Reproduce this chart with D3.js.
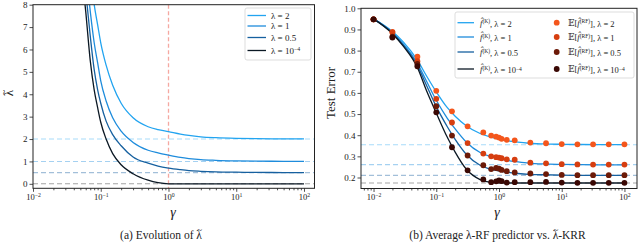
<!DOCTYPE html>
<html><head><meta charset="utf-8">
<script src="https://cdn.jsdelivr.net/npm/d3@7"></script>
<style>
body{margin:0;background:#fff}
svg{display:block}
text{font-family:"Liberation Serif","DejaVu Serif",serif;fill:#222}
</style></head><body>
<svg id="fig" width="640" height="245"></svg>
<script>
// series labels and colours
const lambdaNames = ['2', '1', '0.5', '10^-4'];
const lineColors = ['#22a4f0', '#1e8cdc', '#16609f', '#0b1824'];
const dotColors = ['#f4561c', '#d63e10', '#6c1a08', '#3a0804'];

// panel (a): lambda tilde vs gamma
const gammaA = [0.05, 0.06, 0.07, 0.08, 0.09, 0.1, 0.12, 0.15, 0.2, 0.3, 0.5, 0.7, 1, 1.5, 2, 3, 5, 10, 20, 50, 100];
const tilde2 = [14, 11.5, 9.5, 8.0, 7.1, 6.3, 5.3, 4.4, 3.6, 2.95, 2.55, 2.42, 2.33, 2.22, 2.16, 2.1, 2.06, 2.03, 2.015, 2.006, 2.003];
const tilde1 = [12, 9.6, 7.7, 6.3, 5.4, 4.6, 3.7, 2.95, 2.35, 1.85, 1.5, 1.38, 1.28, 1.18, 1.13, 1.08, 1.05, 1.025, 1.012, 1.005, 1.002];
const tilde05 = [11, 8.6, 6.6, 5.1, 4.2, 3.6, 2.8, 2.2, 1.7, 1.2, 0.92, 0.79, 0.70, 0.63, 0.59, 0.56, 0.535, 0.52, 0.51, 0.504, 0.502];
const tilde0 = [10, 7.7, 5.5, 4.2, 3.4, 2.75, 2.0, 1.35, 0.85, 0.45, 0.16, 0.05, 0, 0, 0, 0, 0, 0, 0, 0, 0];
const levelsA = [2, 1, 0.5, 0];
const yTicksA = [0, 1, 2, 3, 4, 5, 6, 7, 8];

// panel (b): test error vs gamma
const gammaK = [0.01, 0.02, 0.03, 0.05, 0.07, 0.1, 0.15, 0.2, 0.3, 0.5, 0.7, 1, 1.5, 2, 3, 5, 10, 20, 50, 100];
const krr2 = [0.95, 0.89, 0.84, 0.755, 0.68, 0.605, 0.53, 0.49, 0.445, 0.408, 0.393, 0.382, 0.372, 0.367, 0.362, 0.359, 0.357, 0.356, 0.355, 0.355];
const krr1 = [0.95, 0.885, 0.83, 0.74, 0.655, 0.565, 0.48, 0.43, 0.368, 0.318, 0.301, 0.29, 0.279, 0.274, 0.268, 0.264, 0.262, 0.261, 0.26, 0.26];
const krr05 = [0.95, 0.883, 0.825, 0.73, 0.635, 0.535, 0.44, 0.38, 0.31, 0.258, 0.241, 0.231, 0.223, 0.219, 0.215, 0.213, 0.211, 0.21, 0.21, 0.21];
const krr0 = [0.95, 0.88, 0.82, 0.72, 0.61, 0.505, 0.39, 0.32, 0.24, 0.19, 0.178, 0.175, 0.174, 0.174, 0.174, 0.174, 0.174, 0.174, 0.174, 0.174];

const gammaRF = [0.01, 0.02, 0.05, 0.1, 0.178, 0.316, 0.562, 0.75, 0.9, 1, 1.1, 1.33, 1.78, 3.16, 5.62, 10, 17.8, 31.6, 56.2, 100];
const rf2 = [0.948, 0.889, 0.771, 0.610, 0.513, 0.442, 0.413, 0.398, 0.393, 0.389, 0.383, 0.378, 0.376, 0.365, 0.362, 0.358, 0.357, 0.357, 0.357, 0.357];
const rf1 = [0.948, 0.886, 0.750, 0.572, 0.460, 0.363, 0.313, 0.300, 0.296, 0.294, 0.291, 0.286, 0.284, 0.270, 0.267, 0.263, 0.262, 0.261, 0.261, 0.261];
const rf05 = [0.948, 0.866, 0.737, 0.537, 0.398, 0.304, 0.258, 0.240, 0.245, 0.242, 0.236, 0.230, 0.224, 0.219, 0.216, 0.212, 0.211, 0.211, 0.211, 0.211];
const rf0 = [0.948, 0.862, 0.726, 0.508, 0.343, 0.234, 0.191, 0.178, 0.182, 0.186, 0.183, 0.176, 0.178, 0.178, 0.179, 0.176, 0.175, 0.175, 0.175, 0.175];
const levelsB = [0.355, 0.261, 0.21, 0.174];
const yTicksB = [0.2, 0.3, 0.4, 0.5, 0.6, 0.7, 0.8, 0.9, 1.0];
const xTicks = [0.01, 0.1, 1, 10, 100];

const svg = d3.select('#fig');

function minorTicks(domain) {
  const out = [];
  for (let e = -3; e <= 2; e++) {
    for (let k = 2; k <= 9; k++) {
      const v = k * Math.pow(10, e);
      if (v >= domain[0] && v <= domain[1]) out.push(v);
    }
  }
  return out;
}

function powerLabels(g) {
  g.selectAll('.tick text').each(function (d) {
    const e = Math.round(Math.log10(d));
    const t = d3.select(this).text(null);
    t.append('tspan').text('10');
    t.append('tspan').attr('dy', '-0.45em').attr('font-size', '0.68em')
      .text(e < 0 ? '\u2212' + (-e) : e);
  });
}

function styleAxis(g) {
  g.select('.domain').remove();
  g.selectAll('line').attr('stroke', '#222').attr('stroke-width', 0.8);
}

function drawFrame(g, x, y) {
  g.append('rect')
    .attr('x', x.range()[0]).attr('y', y.range()[1])
    .attr('width', x.range()[1] - x.range()[0])
    .attr('height', y.range()[0] - y.range()[1])
    .attr('fill', 'none').attr('stroke', '#222').attr('stroke-width', 1);
}

// put a small tilde over character i of a (non rotated) text
function addTilde(g, text, i, size) {
  const box = text.node().getExtentOfChar(i);
  g.append('text')
    .attr('x', box.x + box.width / 2 + 0.5)
    .attr('y', box.y + size * 0.42)
    .attr('text-anchor', 'middle')
    .attr('font-size', size)
    .text('~');
}

function legendLabel(t, parts) {
  parts.forEach((p) => {
    const s = t.append('tspan').text(p.t);
    if (p.sup) s.attr('dy', '-0.45em').attr('font-size', '0.65em');
    if (p.down) s.attr('dy', '0.45em');
    if (p.it) s.attr('font-style', 'italic');
  });
}

function lamParts(name) {
  if (name === '10^-4') return [{ t: '\u03bb = 10' }, { t: '\u22124', sup: true }];
  return [{ t: '\u03bb = ' + name }];
}

// ---------- panel (a)
const xA = d3.scaleLog().domain([0.01, Math.pow(10, 2.155)]).range([33, 314.5]);
const yA = d3.scaleLinear().domain([-0.2, 8]).range([188.3, 4.7]);
const gA = svg.append('g');

gA.append('clipPath').attr('id', 'clipA').append('rect')
  .attr('x', 33).attr('y', 4.7).attr('width', 281.5).attr('height', 183.6);

gA.selectAll('.lvl')
  .data(levelsA)
  .enter()
  .append('line')
  .attr('x1', 33).attr('x2', 314.5)
  .attr('y1', (d) => yA(d)).attr('y2', (d) => yA(d))
  .attr('stroke', (d, i) => i === 3 ? '#9a9a9a' : lineColors[i])
  .attr('stroke-opacity', (d, i) => i === 3 ? 0.9 : 0.4)
  .attr('stroke-width', 1.1)
  .attr('stroke-dasharray', '5,3');

gA.append('line')
  .attr('x1', xA(1)).attr('x2', xA(1)).attr('y1', 4.7).attr('y2', 188.3)
  .attr('stroke', '#f28b82').attr('stroke-opacity', 0.75)
  .attr('stroke-width', 1.3).attr('stroke-dasharray', '4,2.5');

const lineA = d3.line()
  .x((d) => xA(d[0])).y((d) => yA(d[1]))
  .curve(d3.curveMonotoneX);

[tilde2, tilde1, tilde05, tilde0].forEach((vals, i) => {
  gA.append('path')
    .datum(gammaA.map((g, j) => [g, vals[j]]))
    .attr('clip-path', 'url(#clipA)')
    .attr('fill', 'none')
    .attr('stroke', lineColors[i])
    .attr('stroke-width', 1.3)
    .attr('d', lineA);
});

gA.append('g').attr('transform', 'translate(0,188.3)')
  .call(d3.axisBottom(xA).tickValues(minorTicks(xA.domain())).tickSize(2).tickFormat(''))
  .call(styleAxis);
gA.append('g').attr('transform', 'translate(0,188.3)')
  .call(d3.axisBottom(xA).tickValues(xTicks).tickSize(3.5).tickPadding(2))
  .call(styleAxis)
  .call(powerLabels)
  .selectAll('text').attr('font-size', 8.5).attr('fill', '#222');
gA.append('g').attr('transform', 'translate(33,0)')
  .call(d3.axisLeft(yA).tickValues(yTicksA).tickSize(3.5).tickPadding(2).tickFormat(d3.format('d')))
  .call(styleAxis)
  .selectAll('text').attr('font-size', 9).attr('fill', '#222');
drawFrame(gA, xA, yA);

gA.append('text').attr('x', 173).attr('y', 217).attr('text-anchor', 'middle')
  .attr('font-size', 14).attr('font-style', 'italic').text('\u03b3');
const yLabA = gA.append('g').attr('transform', 'translate(13,93) rotate(-90)');
yLabA.append('text').attr('text-anchor', 'middle').attr('font-size', 13).text('\u03bb');
yLabA.append('text').attr('x', 0.5).attr('y', -6.5).attr('text-anchor', 'middle').attr('font-size', 10).text('~');
const capA = gA.append('text').attr('x', 161).attr('y', 239).attr('text-anchor', 'middle')
  .attr('font-size', 11.5).text('(a) Evolution of \u03bb');
addTilde(gA, capA, 17, 9);

const legA = gA.append('g');
legA.append('rect').attr('x', 245).attr('y', 8).attr('width', 66).attr('height', 52).attr('rx', 2)
  .attr('fill', '#fff').attr('fill-opacity', 0.85).attr('stroke', '#d4d4d4').attr('stroke-width', 0.8);
const rowsA = [15.5, 26, 37.5, 50.5];
lambdaNames.forEach((n, i) => {
  legA.append('line').attr('x1', 247.5).attr('x2', 266).attr('y1', rowsA[i]).attr('y2', rowsA[i])
    .attr('stroke', lineColors[i]).attr('stroke-width', 1.3);
  const t = legA.append('text').attr('x', 271).attr('y', rowsA[i] + 3).attr('font-size', 9);
  legendLabel(t, lamParts(n));
});

// ---------- panel (b)
const xB = d3.scaleLog().domain([Math.pow(10, -2.2), Math.pow(10, 2.2)]).range([361, 637]);
const yB = d3.scaleLinear().domain([0.148, 1.0]).range([188.5, 8.3]);
const gB = svg.append('g');

gB.selectAll('.lvl')
  .data(levelsB)
  .enter()
  .append('line')
  .attr('x1', 361).attr('x2', 637)
  .attr('y1', (d) => yB(d)).attr('y2', (d) => yB(d))
  .attr('stroke', (d, i) => i === 3 ? '#9a9a9a' : lineColors[i])
  .attr('stroke-opacity', (d, i) => i === 3 ? 0.9 : 0.4)
  .attr('stroke-width', 1.1)
  .attr('stroke-dasharray', '5,3');

const lineB = d3.line()
  .x((d) => xB(d[0])).y((d) => yB(d[1]))
  .curve(d3.curveMonotoneX);

[krr2, krr1, krr05, krr0].forEach((vals, i) => {
  gB.append('path')
    .datum(gammaK.map((g, j) => [g, vals[j]]))
    .attr('fill', 'none')
    .attr('stroke', lineColors[i])
    .attr('stroke-width', 1.3)
    .attr('d', lineB);
});

[rf2, rf1, rf05, rf0].forEach((vals, i) => {
  gB.append('g').selectAll('circle')
    .data(gammaRF.map((g, j) => [g, vals[j]]))
    .enter()
    .append('circle')
    .attr('cx', (d) => xB(d[0]))
    .attr('cy', (d) => yB(d[1]))
    .attr('r', 2.9)
    .attr('fill', dotColors[i]);
});

gB.append('g').attr('transform', 'translate(0,188.5)')
  .call(d3.axisBottom(xB).tickValues(minorTicks(xB.domain())).tickSize(2).tickFormat(''))
  .call(styleAxis);
gB.append('g').attr('transform', 'translate(0,188.5)')
  .call(d3.axisBottom(xB).tickValues(xTicks).tickSize(3.5).tickPadding(2))
  .call(styleAxis)
  .call(powerLabels)
  .selectAll('text').attr('font-size', 8.5).attr('fill', '#222');
gB.append('g').attr('transform', 'translate(361,0)')
  .call(d3.axisLeft(yB).tickValues(yTicksB).tickSize(3.5).tickPadding(2).tickFormat(d3.format('.1f')))
  .call(styleAxis)
  .selectAll('text').attr('font-size', 9).attr('fill', '#222');
drawFrame(gB, xB, yB);

gB.append('text').attr('x', 497).attr('y', 217).attr('text-anchor', 'middle')
  .attr('font-size', 14).attr('font-style', 'italic').text('\u03b3');
gB.append('text').attr('transform', 'translate(335,93) rotate(-90)')
  .attr('text-anchor', 'middle').attr('font-size', 13).text('Test  Error');
const capB = gB.append('text').attr('x', 497.5).attr('y', 239).attr('text-anchor', 'middle')
  .attr('font-size', 11.5).text('(b) Average \u03bb-RF predictor vs. \u03bb-KRR');
addTilde(gB, capB, 31, 9);

const legB = gB.append('g');
legB.append('rect').attr('x', 455).attr('y', 12).attr('width', 179).attr('height', 66).attr('rx', 2)
  .attr('fill', '#fff').attr('fill-opacity', 0.85).attr('stroke', '#d4d4d4').attr('stroke-width', 0.8);
const rowsB = [22.7, 37, 52, 69];
lambdaNames.forEach((n, i) => {
  legB.append('line').attr('x1', 457.5).attr('x2', 474).attr('y1', rowsB[i]).attr('y2', rowsB[i])
    .attr('stroke', lineColors[i]).attr('stroke-width', 1.3);
  const t1 = legB.append('text').attr('x', 480).attr('y', rowsB[i] + 3).attr('font-size', 8.5);
  legendLabel(t1, [{ t: 'f\u0302', it: true }, { t: '(K)', sup: true }, { t: ', ', down: true }].concat(lamParts(n)));
  legB.append('circle').attr('cx', 556.7).attr('cy', rowsB[i]).attr('r', 2.9).attr('fill', dotColors[i]);
  const t2 = legB.append('text').attr('x', 568).attr('y', rowsB[i] + 3).attr('font-size', 8.5);
  legendLabel(t2, [{ t: '\ud835\udd3c[' }, { t: 'f\u0302', it: true }, { t: '(RF)', sup: true }, { t: '], ', down: true }].concat(lamParts(n)));
});
</script>
</body></html>
